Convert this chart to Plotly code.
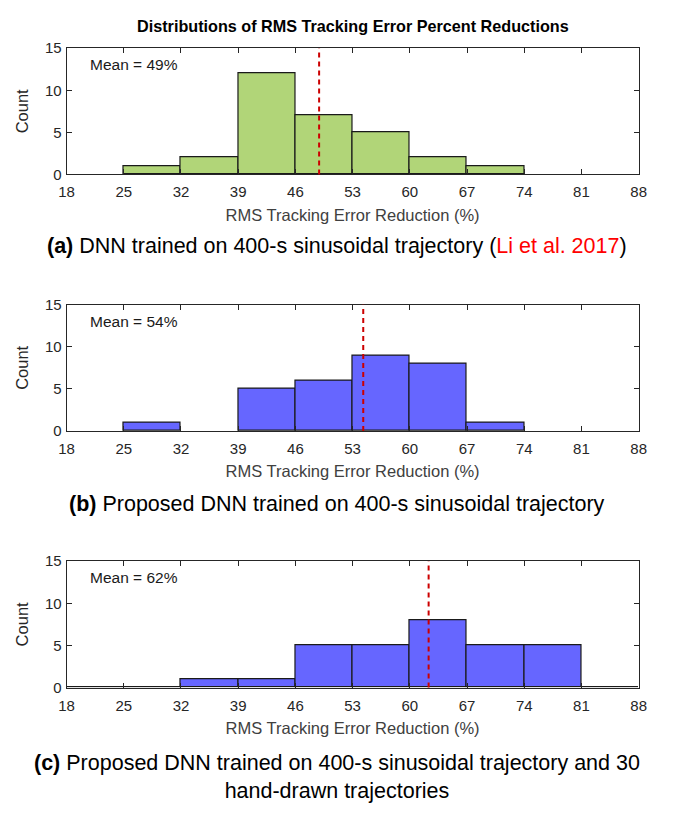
import plotly.graph_objects as go
from plotly.subplots import make_subplots

bin_edges = [18, 25, 32, 39, 46, 53, 60, 67, 74, 81, 88]
counts_a = [0, 1, 2, 12, 7, 5, 2, 1, 0, 0]
counts_b = [0, 1, 0, 5, 6, 9, 8, 1, 0, 0]
counts_c = [0, 0, 1, 1, 5, 5, 8, 5, 5, 0]
means = [48.9, 54.3, 62.3]
mean_labels = ["Mean = 49%", "Mean = 54%", "Mean = 62%"]
colors = ["#b1d578", "#6666ff", "#6666ff"]
captions = [
    "<b>(a)</b> DNN trained on 400-s sinusoidal trajectory (<span style='color:#ff0000'>Li et al. 2017</span>)",
    "<b>(b)</b> Proposed DNN trained on 400-s sinusoidal trajectory",
    "<b>(c)</b> Proposed DNN trained on 400-s sinusoidal trajectory and 30<br>hand-drawn trajectories",
]
title_text = "Distributions of RMS Tracking Error Percent Reductions"
xlabel = "RMS Tracking Error Reduction (%)"
ylabel = "Count"

W, H = 674, 814
x0_px, x1_px = 60, 646
panels_px = [(40, 169), (302, 431), (564, 693)]
caption_px = [242, 506, 784]

fig = make_subplots(rows=3, cols=1)
centers = [(bin_edges[i] + bin_edges[i + 1]) / 2 for i in range(len(bin_edges) - 1)]
widths = [bin_edges[i + 1] - bin_edges[i] for i in range(len(bin_edges) - 1)]
all_counts = [counts_a, counts_b, counts_c]

AX = "#262626"
FONT = "Liberation Sans, Arial, sans-serif"

for i, counts in enumerate(all_counts):
    r = i + 1
    show_zero = (i == 2)
    xs = [c for c, v in zip(centers, counts) if v > 0 or show_zero]
    ys = [v for v in counts if v > 0 or show_zero]
    ws = [w for w, v in zip(widths, counts) if v > 0 or show_zero]
    fig.add_trace(go.Bar(x=xs, y=ys, width=ws, marker=dict(color=colors[i], line=dict(color="#1a1a1a", width=1.2)),
                         showlegend=False, hoverinfo="x+y"), row=r, col=1)
    top, bot = panels_px[i]
    xa = "xaxis" if r == 1 else f"xaxis{r}"
    ya = "yaxis" if r == 1 else f"yaxis{r}"
    fig.layout[xa].update(domain=[x0_px / W, x1_px / W], range=[18, 88], tickvals=bin_edges,
                          ticks="inside", ticklen=5, tickcolor=AX, showline=True, linecolor=AX, linewidth=1,
                          mirror="ticks", showgrid=False, zeroline=False, ticklabelstandoff=4,
                          tickfont=dict(family=FONT, size=15, color=AX),
                          title=dict(text=xlabel, font=dict(family=FONT, size=16.5, color="#404040"), standoff=9))
    fig.layout[ya].update(domain=[1 - bot / H, 1 - top / H], range=[0, 15], tickvals=[0, 5, 10, 15],
                          ticks="inside", ticklen=5, tickcolor=AX, showline=True, linecolor=AX, linewidth=1,
                          mirror="ticks", showgrid=False, zeroline=False, ticklabelstandoff=1,
                          tickfont=dict(family=FONT, size=15, color=AX),
                          title=dict(text=ylabel, font=dict(family=FONT, size=16.5, color=AX), standoff=12))
    xref = "x" if r == 1 else f"x{r}"
    yd = "y domain" if r == 1 else f"y{r} domain"
    xd = "x domain" if r == 1 else f"x{r} domain"
    fig.add_shape(type="line", x0=means[i], x1=means[i], y0=0, y1=1, xref=xref, yref=yd,
                  line=dict(color="#cc0000", width=2, dash="5px,4px"))
    fig.add_annotation(text=mean_labels[i], x=0.038, y=0.87, xref=xd, yref=yd, xanchor="left", yanchor="middle",
                       showarrow=False, font=dict(family=FONT, size=15.5, color="#1a1a1a"))
    fig.add_annotation(text=captions[i], x=0.5, y=1 - caption_px[i] / H, xref="paper", yref="paper",
                       xanchor="center", yanchor="middle", showarrow=False,
                       font=dict(family=FONT, size=21.5, color="#000000"))

fig.add_annotation(text="<b>" + title_text + "</b>", x=(x0_px + x1_px) / 2 / W, y=1 - 17 / H, xref="paper",
                   yref="paper", xanchor="center", yanchor="middle", showarrow=False,
                   font=dict(family=FONT, size=16.2, color="#000000"))

fig.update_layout(width=W, height=H, margin=dict(l=0, r=0, t=0, b=0), plot_bgcolor="white",
                  paper_bgcolor="white", bargap=0, font=dict(family=FONT))
fig.write_html("out.html")
